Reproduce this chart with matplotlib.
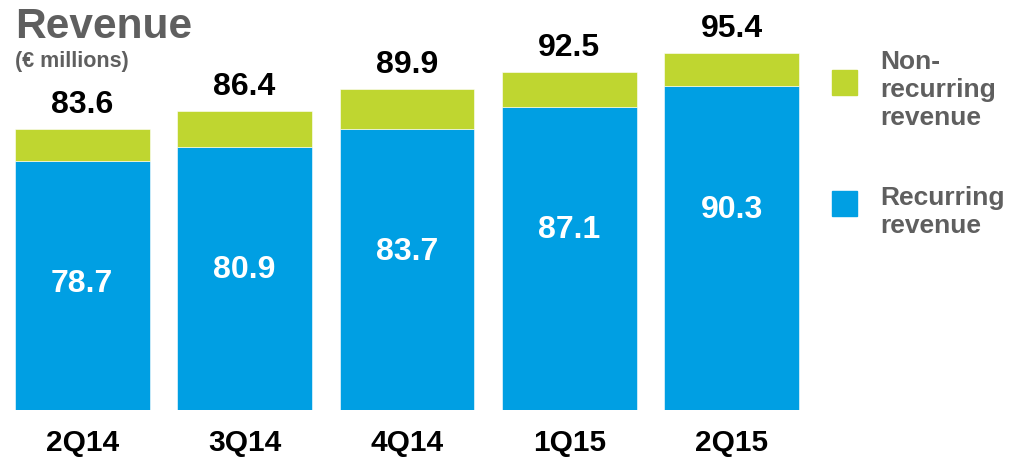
import matplotlib
matplotlib.use("Agg")
import matplotlib.pyplot as plt
from matplotlib.patches import Rectangle

# values (EUR millions)
quarters = ["2Q14", "3Q14", "4Q14", "1Q15", "2Q15"]
recurring = [78.7, 80.9, 83.7, 87.1, 90.3]
total = [83.6, 86.4, 89.9, 92.5, 95.4]
non_recurring = [t - r for t, r in zip(total, recurring)]

BLUE = "#009FE3"
GREEN = "#BFD630"
GREY = "#5F5F5F"
W, H = 1017, 461

plt.rcParams["font.family"] = ["Liberation Sans", "DejaVu Sans"]
plt.rcParams["font.weight"] = "bold"

fig = plt.figure(figsize=(W / 100, H / 100), dpi=100)
# axes spans pixel x 1..813, y 0..410 (from top)
ax = fig.add_axes([1 / W, (H - 410) / H, 812 / W, 410 / H])

x = list(range(len(quarters)))
ax.bar(x, recurring, width=0.83, color=BLUE, edgecolor="white", linewidth=0.4)
ax.bar(x, non_recurring, bottom=recurring, width=0.83, color=GREEN,
       edgecolor="white", linewidth=0.4)

ax.set_xlim(-0.5, len(quarters) - 0.5)
ax.set_ylim(40, 40 + 410 / 6.44)

for xi, r, t in zip(x, recurring, total):
    ax.annotate(f"{t:.1f}", (xi, t), xytext=(0, 11.5), textcoords="offset points",
                ha="center", va="baseline", fontsize=23, fontweight="bold",
                color="black")
    # value sits a fixed distance below the top of the blue segment
    ax.annotate(f"{r:.1f}", (xi, r), xytext=(0, -89), textcoords="offset points",
                ha="center", va="center", fontsize=23, fontweight="bold",
                color="white")

ax.set_xticks(x)
ax.set_xticklabels(quarters, fontsize=21.5, fontweight="bold")
ax.tick_params(axis="x", length=0, pad=14)
ax.set_yticks([])
for s in ax.spines.values():
    s.set_visible(False)

# title block
fig.text(15 / W, 1 - 38 / H, "Revenue", fontsize=30.5, fontweight="bold",
         color=GREY, va="baseline", ha="left")
fig.text(15 / W, 1 - 67 / H, "(€ millions)", fontsize=15.5, fontweight="bold",
         color=GREY, va="baseline", ha="left")

# legend drawn by hand (text anchored on its last line's baseline)
fig.add_artist(Rectangle((832 / W, 1 - 95 / H), 25 / W, 25 / H,
                         transform=fig.transFigure, color=GREEN))
fig.add_artist(Rectangle((832 / W, 1 - 216 / H), 25 / W, 25 / H,
                         transform=fig.transFigure, color=BLUE))
fig.text(880 / W, 1 - 125 / H, "Non-\nrecurring\nrevenue", fontsize=19,
         fontweight="bold", color=GREY, va="baseline", ha="left",
         multialignment="left")
fig.text(880 / W, 1 - 233 / H, "Recurring\nrevenue", fontsize=19,
         fontweight="bold", color=GREY, va="baseline", ha="left",
         multialignment="left")

fig.savefig("out.png", dpi=100)
